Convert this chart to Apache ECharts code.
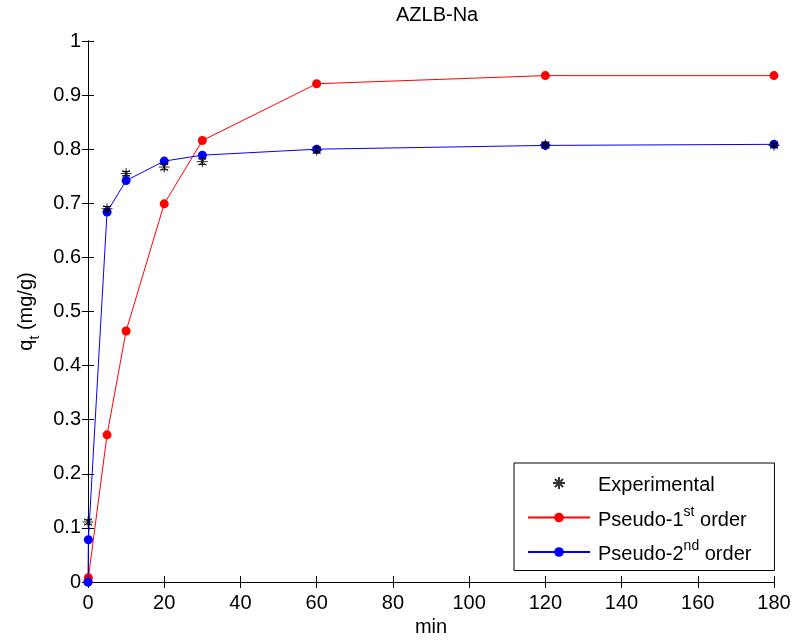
<!DOCTYPE html>
<html>
<head>
<meta charset="utf-8">
<script src="https://cdn.jsdelivr.net/npm/echarts@6/dist/echarts.min.js"></script>
<style>
html,body{margin:0;padding:0;background:#fff;}
#chart{width:797px;height:644px;}
</style>
</head>
<body>
<div id="chart"></div>
<script>
var titleText = 'AZLB-Na';
var xTicks = [0, 20, 40, 60, 80, 100, 120, 140, 160, 180];
var yTicks = [0, 0.1, 0.2, 0.3, 0.4, 0.5, 0.6, 0.7, 0.8, 0.9, 1];

var timeExp = [0, 5, 10, 20, 30, 60, 120, 180];
var qExp    = [0.111, 0.690, 0.755, 0.767, 0.777, 0.798, 0.808, 0.807];
var errExp  = [0.004, 0.004, 0.004, 0.005, 0.005, 0.005, 0.004, 0.004];

var timeModel = [0, 0.1, 5, 10, 20, 30, 60, 120, 180];
var qPseudo1  = [0, 0.008, 0.272, 0.464, 0.699, 0.816, 0.921, 0.936, 0.936];
var qPseudo2  = [0, 0.078, 0.684, 0.742, 0.778, 0.789, 0.800, 0.807, 0.809];

var FONT = 'Liberation Sans, Arial, sans-serif';
var FS = 20;

function pairs(xs, ys){ return xs.map(function(x,i){ return [x, ys[i]]; }); }

var chart = echarts.init(document.getElementById('chart'), null, {renderer:'canvas'});

var axisCommon = {
  min: 0,
  axisLine: {show: true, lineStyle: {color: '#000', width: 1}},
  axisTick: {show: true, inside: true, length: 6, lineStyle: {color: '#000'}},
  splitLine: {show: false},
  axisLabel: {color: '#000', fontFamily: FONT, fontSize: FS}
};

var asterisk = 'path://M5,0L5,10M0,5L10,5M1.6,1.6L8.4,8.4M1.6,8.4L8.4,1.6';

var option = {
  animation: false,
  backgroundColor: '#fff',
  title: {
    text: titleText, left: 391, top: 0,
    textStyle: {fontFamily: FONT, fontSize: FS, fontWeight: 'normal', color: '#000'}
  },
  grid: {left: 88, right: 23, top: 41, bottom: 62, containLabel: false, outerBoundsMode: 'none'},
  legend: {
    orient: 'vertical', left: 514, top: 463,
    padding: [10, 14, 6, 13],
    itemGap: 9.5,
    itemWidth: 62, itemHeight: 12,
    borderColor: '#000', borderWidth: 1, borderRadius: 0,
    backgroundColor: '#fff',
    data: ['Experimental', 'Pseudo-1st order', 'Pseudo-2nd order'],
    formatter: function(name){
      if (name === 'Pseudo-1st order') return '{n|Pseudo-1}{s|st}{n| order}{p|}';
      if (name === 'Pseudo-2nd order') return '{n|Pseudo-2}{s|nd}{n| order}{p|}';
      return '{n|' + name + '}{p|}';
    },
    textStyle: {
      fontFamily: FONT, fontSize: FS, color: '#000', padding: [0,0,0,3],
      rich: {
        n: {fontFamily: FONT, fontSize: FS, color: '#000', lineHeight: 25, verticalAlign: 'bottom'},
        s: {fontFamily: FONT, fontSize: 14, color: '#000', lineHeight: 25, verticalAlign: 'top'},
        p: {width: 9, lineHeight: 25}
      }
    }
  },
  xAxis: [
    Object.assign({}, axisCommon, {
      type: 'value', max: 180, interval: 20, position: 'bottom',
      name: 'min', nameLocation: 'middle', nameGap: 35,
      nameTextStyle: {fontFamily: FONT, fontSize: FS, color: '#000'},
      axisLabel: {color: '#000', fontFamily: FONT, fontSize: FS, margin: 11,
        formatter: function(v){ return xTicks.indexOf(v) >= 0 ? String(v) : ''; }}
    }),
    Object.assign({}, axisCommon, {
      type: 'value', max: 180, interval: 20, position: 'top',
      axisLabel: {show: false}
    })
  ],
  yAxis: [
    Object.assign({}, axisCommon, {
      type: 'value', max: 1, interval: 0.1, position: 'left',
      name: '{n|q}{s|t}{n| (mg/g)}', nameLocation: 'middle', nameGap: 43, nameRotate: 90,
      nameTextStyle: {
        fontFamily: FONT, fontSize: FS, color: '#000',
        rich: {
          n: {fontFamily: FONT, fontSize: FS, color: '#000', lineHeight: 26, verticalAlign: 'top'},
          s: {fontFamily: FONT, fontSize: 14, color: '#000', lineHeight: 26, verticalAlign: 'bottom'}
        }
      },
      axisLabel: {color: '#000', fontFamily: FONT, fontSize: FS, margin: 7,
        formatter: function(v){
          for (var i = 0; i < yTicks.length; i++) {
            if (Math.abs(yTicks[i] - v) < 1e-9) return String(yTicks[i]);
          }
          return '';
        }}
    }),
    Object.assign({}, axisCommon, {
      type: 'value', max: 1, interval: 0.1, position: 'right',
      axisLabel: {show: false}
    })
  ],
  series: [
    {
      name: 'Pseudo-1st order', type: 'line',
      data: pairs(timeModel, qPseudo1),
      symbol: 'circle', symbolSize: 9, showSymbol: true,
      lineStyle: {color: '#ff0000', width: 1},
      itemStyle: {color: '#ff0000'},
      z: 3
    },
    {
      name: 'Pseudo-2nd order', type: 'line',
      data: pairs(timeModel, qPseudo2),
      symbol: 'circle', symbolSize: 9, showSymbol: true,
      lineStyle: {color: '#0000ff', width: 1},
      itemStyle: {color: '#0000ff'},
      z: 4
    },
    {
      name: 'ExpErr', type: 'custom',
      data: timeExp.map(function(t,i){ return [t, qExp[i], errExp[i]]; }),
      renderItem: function(params, api){
        var x = api.value(0), y = api.value(1), e = api.value(2);
        var lo = api.coord([x, y - e]);
        var hi = api.coord([x, y + e]);
        var w = 4;
        var st = {stroke: '#000', lineWidth: 1};
        return {type: 'group', children: [
          {type: 'line', shape: {x1: lo[0], y1: lo[1], x2: hi[0], y2: hi[1]}, style: st},
          {type: 'line', shape: {x1: lo[0]-w, y1: lo[1], x2: lo[0]+w, y2: lo[1]}, style: st},
          {type: 'line', shape: {x1: hi[0]-w, y1: hi[1], x2: hi[0]+w, y2: hi[1]}, style: st}
        ]};
      },
      z: 5, silent: true
    },
    {
      name: 'Experimental', type: 'scatter',
      data: pairs(timeExp, qExp),
      symbol: asterisk, symbolSize: 11,
      itemStyle: {color: 'rgba(0,0,0,0)', borderColor: '#000', borderWidth: 1},
      z: 6
    }
  ]
};
chart.setOption(option);
</script>
</body>
</html>
